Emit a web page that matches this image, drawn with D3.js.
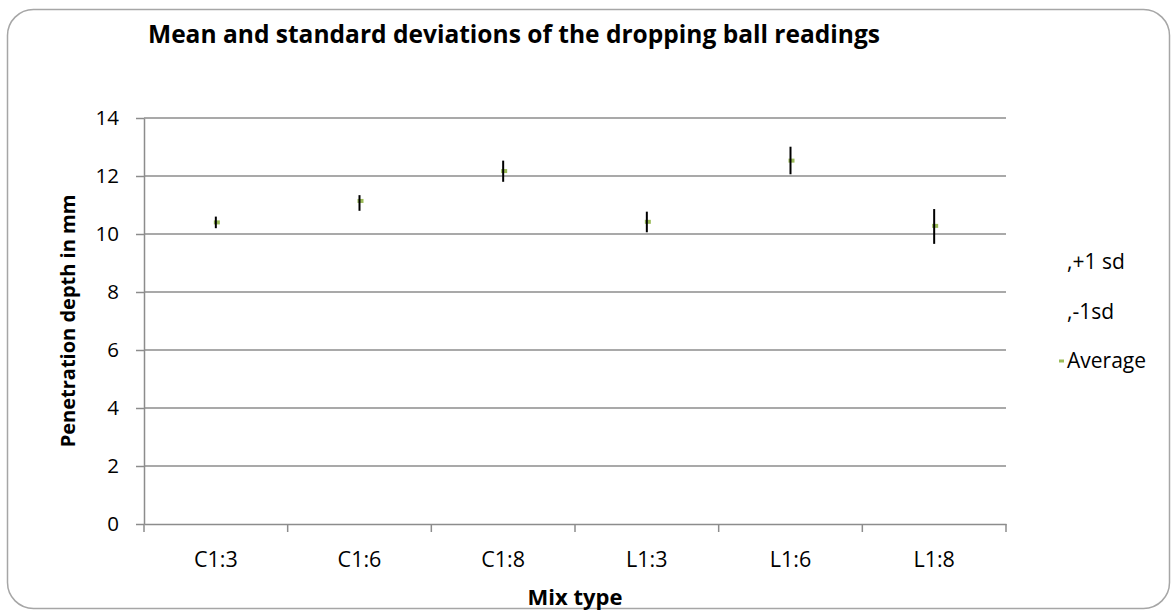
<!DOCTYPE html>
<html>
<head>
<meta charset="utf-8">
<script src="https://cdn.jsdelivr.net/npm/d3@7"></script>
<style>
  html, body { margin: 0; padding: 0; background: #fff; }
  svg { display: block; font-family: "Open Sans", sans-serif; }
</style>
</head>
<body>
<svg id="chart" width="1176" height="612"></svg>
<script>
// ---- data ----
const categories = ["C1:3", "C1:6", "C1:8", "L1:3", "L1:6", "L1:8"];
const plusSd  = [10.60, 11.34, 12.53, 10.77, 13.01, 10.86];
const minusSd = [10.20, 10.80, 11.80, 10.06, 12.06, 9.66];
const average = [10.40, 11.14, 12.17, 10.42, 12.53, 10.28];
const yTicks  = [0, 2, 4, 6, 8, 10, 12, 14];
const legendLabels = [",+1 sd", ",-1sd", "Average"];
const titleText = "Mean and standard deviations of the dropping ball readings";
const xTitle = "Mix type";
const yTitle = "Penetration depth in mm";

const svg = d3.select("#chart");
const plot = { left: 144, right: 1006, top: 118, bottom: 524 };
const FONT = "'Open Sans', sans-serif";

// frame
svg.append("rect")
  .attr("x", 7.5).attr("y", 9.5).attr("width", 1162).attr("height", 599)
  .attr("rx", 26).attr("ry", 26)
  .attr("fill", "#fff").attr("stroke", "#a6a6a6").attr("stroke-width", 1.5);

const x = d3.scaleBand().domain(categories).range([plot.left, plot.right]);
const y = d3.scaleLinear().domain([0, 14]).range([plot.bottom, plot.top]);

// gridlines
svg.append("g").selectAll("line").data(yTicks.filter(d => d > 0)).join("line")
  .attr("x1", plot.left).attr("x2", plot.right)
  .attr("y1", d => y(d)).attr("y2", d => y(d))
  .attr("stroke", "#8c8c8c").attr("stroke-width", 1.5);

// y axis
const yAxis = svg.append("g").attr("transform", `translate(${plot.left},0)`)
  .call(d3.axisLeft(y).tickValues(yTicks).tickSize(8).tickPadding(17).tickSizeOuter(0));
yAxis.select(".domain").attr("stroke", "#8c8c8c").attr("stroke-width", 1.5);
yAxis.selectAll(".tick line").attr("stroke", "#8c8c8c").attr("stroke-width", 1.5);
yAxis.selectAll("text").attr("font-size", 20.5).attr("fill", "#000")
  .attr("font-family", FONT);

// x axis
const xAxis = svg.append("g").attr("transform", `translate(0,${plot.bottom})`)
  .call(d3.axisBottom(x).tickSize(0).tickPadding(28));
xAxis.select(".domain").attr("stroke", "#8c8c8c").attr("stroke-width", 1.5);
xAxis.selectAll("text").attr("font-size", 21.5).attr("fill", "#000")
  .attr("font-family", FONT);
// category boundary ticks
const bounds = categories.map(c => x(c)).concat([x(categories[categories.length - 1]) + x.bandwidth()]);
svg.append("g").selectAll("line").data(bounds).join("line")
  .attr("x1", d => d).attr("x2", d => d)
  .attr("y1", plot.bottom).attr("y2", plot.bottom + 8)
  .attr("stroke", "#8c8c8c").attr("stroke-width", 1.5);

const cx = c => x(c) + x.bandwidth() / 2;

// average markers
svg.append("g").selectAll("rect").data(categories).join("rect")
  .attr("x", c => cx(c) - 2).attr("y", (c, i) => y(average[i]) - 2)
  .attr("width", 6).attr("height", 4)
  .attr("fill", "#9bbb59");

// high-low lines
svg.append("g").selectAll("line").data(categories).join("line")
  .attr("x1", cx).attr("x2", cx)
  .attr("y1", (c, i) => y(plusSd[i])).attr("y2", (c, i) => y(minusSd[i]))
  .attr("stroke", "#000").attr("stroke-width", 2);

// title
svg.append("text").attr("x", 148).attr("y", 43)
  .attr("font-size", 24.5).attr("font-weight", "bold")
  .attr("textLength", 732).attr("lengthAdjust", "spacingAndGlyphs")
  .text(titleText);

// axis titles
svg.append("text").attr("x", 575).attr("y", 605).attr("text-anchor", "middle")
  .attr("font-size", 22).attr("font-weight", "bold").text(xTitle);
svg.append("text").attr("transform", "translate(75,321) rotate(-90)")
  .attr("text-anchor", "middle").attr("font-size", 20).attr("font-weight", "bold")
  .text(yTitle);

// legend
const legY = [262, 312, 361];
const leg = svg.append("g");
leg.selectAll("text").data(legendLabels).join("text")
  .attr("x", 1067).attr("y", (d, i) => legY[i] + 7)
  .attr("font-size", 21).text(d => d);
leg.append("rect").attr("x", 1059).attr("y", legY[2] - 1.5).attr("width", 5).attr("height", 3)
  .attr("fill", "#9bbb59");
</script>
</body>
</html>
